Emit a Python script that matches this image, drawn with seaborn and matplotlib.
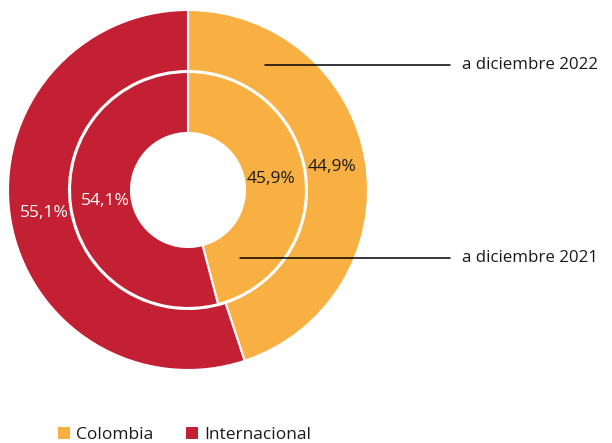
import matplotlib
matplotlib.use("Agg")
import matplotlib.pyplot as plt
from matplotlib.patches import Patch
import seaborn as sns

categories = ["Colombia", "Internacional"]
values_2022 = [44.9, 55.1]
values_2021 = [45.9, 54.1]
ring_labels = ["a diciembre 2022", "a diciembre 2021"]
colors = ["#F9B043", "#C42033"]
text_colors = ["#1a1a1a", "white"]

sns.set_theme(style="white")
plt.rcParams['font.family'] = ['Open Sans', 'DejaVu Sans']

W, H = 612, 443
fig = plt.figure(figsize=(W / 100, H / 100), dpi=100)
ax = fig.add_axes([0, 0, 1, 1])

cx, cy = 188, H - 190
R_out, R_in = 180, 118
wd_out, wd_in = 61, 61

def fmt(p):
    return f"{p:.1f}".replace(".", ",") + "%"

w1, t1, a1 = ax.pie(values_2022, radius=R_out, center=(cx, cy), colors=colors,
                    startangle=90, counterclock=False, autopct=fmt, pctdistance=0.81,
                    wedgeprops=dict(width=wd_out, edgecolor="white", linewidth=1.5),
                    textprops=dict(fontsize=12.5))
w2, t2, a2 = ax.pie(values_2021, radius=R_in, center=(cx, cy), colors=colors,
                    startangle=90, counterclock=False, autopct=fmt, pctdistance=0.71,
                    wedgeprops=dict(width=wd_in, edgecolor="white", linewidth=1.5),
                    textprops=dict(fontsize=12.5))
for txts in (a1, a2):
    for t, c in zip(txts, text_colors):
        t.set_color(c)

ax.set_xlim(0, W)
ax.set_ylim(0, H)
ax.set_aspect("equal")
ax.axis("off")

# ring annotations
ax.plot([265, 450], [H - 65, H - 65], color="black", lw=1.1)
ax.text(462, H - 65, ring_labels[0], fontsize=12.2, va="center", ha="left", color="#1a1a1a")
ax.plot([240, 450], [H - 258, H - 258], color="black", lw=1.1)
ax.text(462, H - 258, ring_labels[1], fontsize=12.2, va="center", ha="left", color="#1a1a1a")

handles = [Patch(facecolor=c, edgecolor="none") for c in colors]
fig.legend(handles, categories, loc="lower left", bbox_to_anchor=(0.069, -0.035),
           ncol=2, frameon=False, fontsize=12.5, handlelength=0.7, handleheight=0.7,
           handletextpad=0.35, columnspacing=1.9, labelcolor="#1a1a1a")

fig.savefig("out.png", dpi=100)
